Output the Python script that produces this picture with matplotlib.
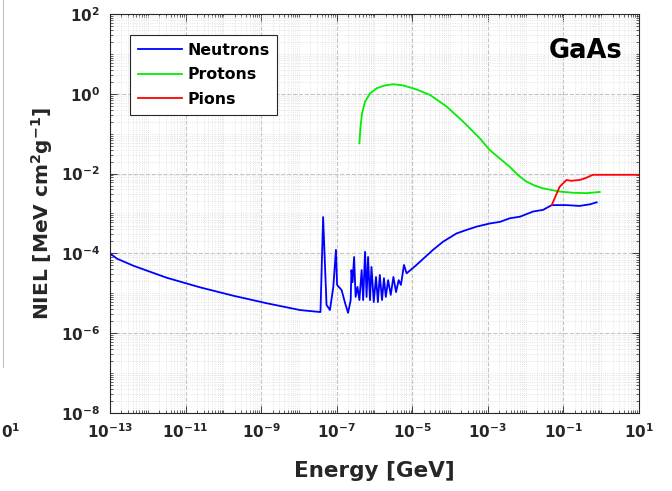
import numpy as np
import matplotlib
matplotlib.use("Agg")
import matplotlib.pyplot as plt
from matplotlib.lines import Line2D
from matplotlib.ticker import FixedLocator, FuncFormatter, LogLocator, NullFormatter

plt.rcParams['font.family'] = ['DejaVu Sans']
plt.rcParams['font.weight'] = 'bold'
plt.rcParams['mathtext.fontset'] = 'custom'
plt.rcParams['mathtext.rm'] = 'DejaVu Sans:bold'
plt.rcParams['mathtext.bf'] = 'DejaVu Sans:bold'
plt.rcParams['mathtext.it'] = 'DejaVu Sans:bold:italic'

# log10(energy / GeV) and log10(NIEL / MeV cm^2 g^-1)
neut_loge = [-13.0, -12.82, -12.38, -11.5, -10.62, -9.74, -8.85, -7.97, -7.43, -7.36, -7.27,
             -7.18, -7.09, -7.02, -6.99, -6.87, -6.78, -6.70, -6.63, -6.61, -6.58,
             -6.54, -6.50, -6.45, -6.40, -6.34, -6.30, -6.25, -6.21, -6.17, -6.12,
             -6.08, -6.02, -5.96, -5.91, -5.86, -5.80, -5.75, -5.70, -5.64, -5.57,
             -5.50, -5.43, -5.36, -5.30, -5.22, -5.15, -4.89, -4.45, -4.19, -3.83,
             -3.56, -3.30, -2.95, -2.68, -2.42, -2.15, -1.80, -1.54, -1.31, -0.92,
             -0.57, -0.30, -0.12]
neut_logn = [-4.00, -4.13, -4.31, -4.61, -4.85, -5.06, -5.25, -5.42, -5.47, -3.09, -5.29,
             -5.42, -4.84, -3.91, -4.79, -4.92, -5.24, -5.49, -5.17, -4.42, -4.72,
             -4.09, -5.09, -4.84, -5.17, -4.42, -5.17, -3.96, -5.09, -4.09, -5.17,
             -4.34, -5.22, -4.59, -5.22, -4.54, -5.17, -4.62, -5.09, -4.67, -5.04,
             -4.59, -4.97, -4.67, -4.79, -4.29, -4.50, -4.29, -3.91, -3.71, -3.50,
             -3.41, -3.33, -3.25, -3.21, -3.12, -3.08, -2.95, -2.91, -2.79, -2.79,
             -2.81, -2.77, -2.72]

prot_loge = [-6.40, -6.37, -6.33, -6.25, -6.12, -5.94, -5.72, -5.50, -5.24, -4.89,
             -4.53, -4.09, -3.65, -3.21, -2.95, -2.42, -2.20, -1.98, -1.76, -1.54,
             -1.10, -0.75, -0.38, -0.04]
prot_logn = [-1.24, -0.82, -0.49, -0.20, 0.01, 0.14, 0.21, 0.24, 0.21, 0.11,
             -0.03, -0.32, -0.70, -1.12, -1.41, -1.83, -2.04, -2.20, -2.30, -2.37,
             -2.45, -2.48, -2.49, -2.46]

pion_loge = [-1.31, -1.10, -0.92, -0.80, -0.57, -0.41, -0.22, 0.30, 1.00]
pion_logn = [-2.79, -2.33, -2.16, -2.18, -2.16, -2.11, -2.03, -2.03, -2.03]

xticks = [1e-13, 1e-11, 1e-9, 1e-7, 1e-5, 1e-3, 1e-1, 1e1]
yticks = [1e-8, 1e-6, 1e-4, 1e-2, 1e0, 1e2]

fig = plt.figure(figsize=(6.72, 4.91), dpi=100)
ax = fig.add_axes([110 / 672, 78 / 491, 529 / 672, 399 / 491])

ax.plot(10 ** np.array(neut_loge), 10 ** np.array(neut_logn), color='#0000ff', lw=1.3, label='Neutrons')
ax.plot(10 ** np.array(prot_loge), 10 ** np.array(prot_logn), color='#00ee00', lw=1.3, label='Protons')
ax.plot(10 ** np.array(pion_loge), 10 ** np.array(pion_logn), color='#ff0000', lw=1.3, label='Pions')

ax.set_xscale('log')
ax.set_yscale('log')
ax.set_xlim(1e-13, 1e1)
ax.set_ylim(1e-8, 1e2)

def sci(v, pos):
    return r'$10^{%d}$' % int(round(np.log10(v)))

ax.xaxis.set_major_locator(FixedLocator(xticks))
ax.yaxis.set_major_locator(FixedLocator(yticks))
ax.xaxis.set_major_formatter(FuncFormatter(sci))
ax.yaxis.set_major_formatter(FuncFormatter(sci))
for a in (ax.xaxis, ax.yaxis):
    a.set_minor_locator(LogLocator(base=10, subs=np.arange(1, 10), numticks=200))
    a.set_minor_formatter(NullFormatter())

ax.tick_params(which='both', direction='in', top=True, right=True, colors='#262626',
               labelcolor='#262626', labelsize=11)
ax.tick_params(which='major', length=5, width=0.6, pad=7)
ax.tick_params(which='minor', length=2.5, width=0.5)
for s in ax.spines.values():
    s.set_color('#262626')
    s.set_linewidth(0.8)

ax.grid(True, which='major', ls='--', color='#c4c4c4', lw=0.8)
ax.grid(True, which='minor', ls=':', color='#dcdcdc', lw=0.6)
ax.set_axisbelow(True)

ax.set_xlabel('Energy [GeV]', fontsize=15.5, fontweight='bold', color='#262626', labelpad=14)
ax.set_ylabel(r'NIEL [MeV cm$^2$g$^{-1}$]', fontsize=14.5, fontweight='bold',
              color='#262626', labelpad=4)

ax.text(0.968, 0.907, 'GaAs', transform=ax.transAxes, ha='right', va='center',
        fontsize=18.5, fontweight='bold', color='black')

leg = ax.legend(loc='upper left', bbox_to_anchor=(130 / 672, 1 - 35 / 491),
                bbox_transform=fig.transFigure, borderaxespad=0, fontsize=11.3,
                handlelength=2.8, handletextpad=0.35, labelspacing=0.6,
                borderpad=0.5, fancybox=False, framealpha=1)
leg.get_frame().set_edgecolor('#262626')
leg.get_frame().set_linewidth(0.8)

# edge of the neighbouring panel
fig.add_artist(Line2D([3 / 672, 3 / 672], [1.0, 1 - 367 / 491], color='#c0c0c0', lw=0.8))
fig.text(1 / 672, 1 - 432 / 491, r'$0^{1}$', ha='left', va='center', fontsize=11,
         color='#262626')

fig.savefig('out.png', dpi=100)
